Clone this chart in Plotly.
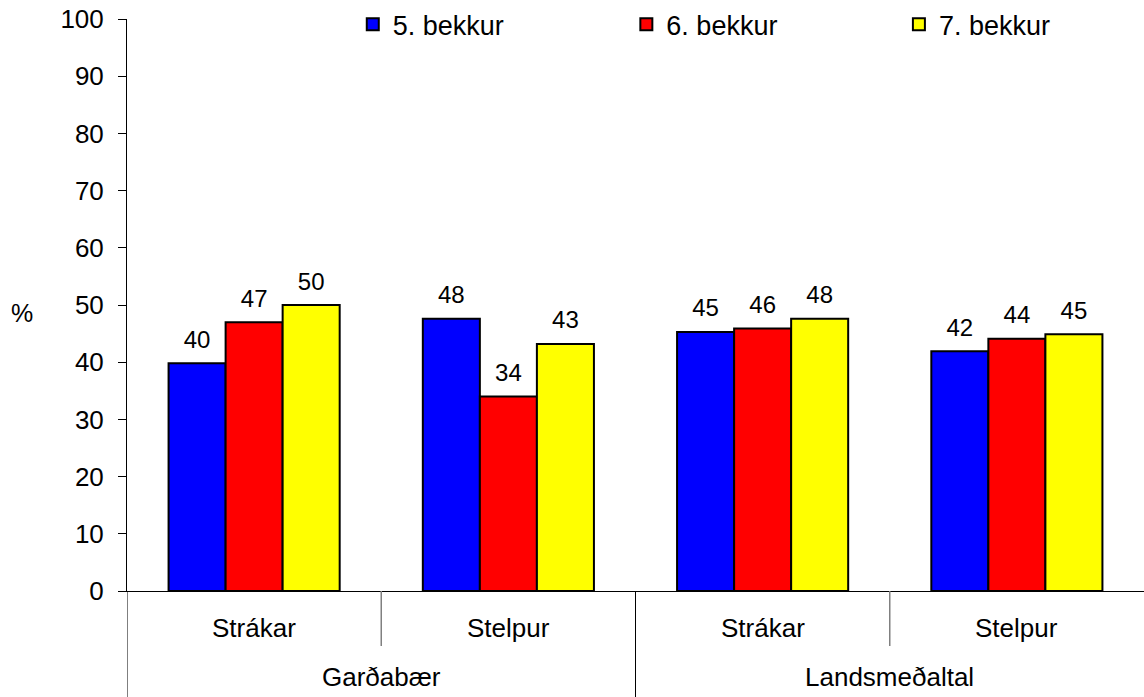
import plotly.graph_objects as go

groups = ['Garðabær', 'Landsmeðaltal']
subgroups = ['Strákar', 'Stelpur']
categories = ['Garðabær Strákar', 'Garðabær Stelpur', 'Landsmeðaltal Strákar', 'Landsmeðaltal Stelpur']

bekkur5 = [39.8, 47.6, 45.3, 41.9]
bekkur6 = [47.0, 34.0, 45.9, 44.1]
bekkur7 = [50.0, 43.2, 47.6, 44.9]

series = [
    ('5. bekkur', bekkur5, '#0000FF', 'legend'),
    ('6. bekkur', bekkur6, '#FF0000', 'legend2'),
    ('7. bekkur', bekkur7, '#FFFF00', 'legend3'),
]

FONT = 'Arial, Liberation Sans, sans-serif'

fig = go.Figure()
for name, vals, col, leg in series:
    fig.add_trace(go.Bar(
        x=categories,
        y=vals,
        name=name,
        legend=leg,
        marker=dict(color=col, line=dict(color='black', width=2)),
        # small second line lifts the label a bit off the bar, like the original
        texttemplate="<span style='font-size:24px'>%{y:.0f}</span><br><span style='color:white'>.</span>",
        textposition='outside',
        textfont=dict(size=8, color='black', family=FONT),
        cliponaxis=False,
    ))

annotations = [
    dict(text='%', x=-0.103, y=0.486, xref='paper', yref='paper',
         xanchor='center', yanchor='middle',
         showarrow=False, font=dict(size=25, color='black', family=FONT)),
]
# inner / outer category labels
for i, cat in enumerate(categories):
    annotations.append(dict(text=subgroups[i % 2], x=i, y=-0.065, xref='x', yref='paper',
                            xanchor='center', yanchor='middle',
                            showarrow=False, font=dict(size=26, color='black', family=FONT)))
for j, g in enumerate(groups):
    annotations.append(dict(text=g, x=2 * j + 0.5, y=-0.150, xref='x', yref='paper',
                            xanchor='center', yanchor='middle',
                            showarrow=False, font=dict(size=26, color='black', family=FONT)))

shapes = []
for xb in [-0.5, 1.5]:
    shapes.append(dict(type='line', xref='x', yref='paper', x0=xb, x1=xb, y0=0, y1=-0.2,
                       line=dict(color='black', width=1)))
for xb in [0.5, 2.5]:
    shapes.append(dict(type='line', xref='x', yref='paper', x0=xb, x1=xb, y0=0, y1=-0.096,
                       line=dict(color='#808080', width=1.5)))

leg_style = dict(
    y=0.99, yanchor='middle', xanchor='left',
    font=dict(size=27, family=FONT, color='black'),
    bgcolor='rgba(0,0,0,0)',
)

fig.update_layout(
    width=1144,
    height=697,
    margin=dict(l=127, r=0, t=19, b=106, autoexpand=False),
    plot_bgcolor='white',
    paper_bgcolor='white',
    barmode='group',
    bargap=0.327,
    bargroupgap=0,
    font=dict(family=FONT, size=26, color='black'),
    showlegend=True,
    legend=dict(x=0.222, **leg_style),
    legend2=dict(x=0.491, **leg_style),
    legend3=dict(x=0.759, **leg_style),
    annotations=annotations,
    shapes=shapes,
)
fig.update_xaxes(
    type='category',
    range=[-0.5, 3.5],
    showticklabels=False,
    showgrid=False,
    showline=True,
    linecolor='black',
    linewidth=1,
    ticks='',
    zeroline=False,
)
fig.update_yaxes(
    range=[0, 100],
    dtick=10,
    showgrid=False,
    showline=True,
    linecolor='black',
    linewidth=1,
    ticks='outside',
    ticklen=8,
    tickcolor='black',
    ticklabelstandoff=9,
    tickfont=dict(size=26, family=FONT, color='black'),
    zeroline=False,
)

# the page's default body margin would shift the figure by 8px
fig.write_html('out.html', config={'displayModeBar': False},
               post_script="document.body.style.margin='0';")
